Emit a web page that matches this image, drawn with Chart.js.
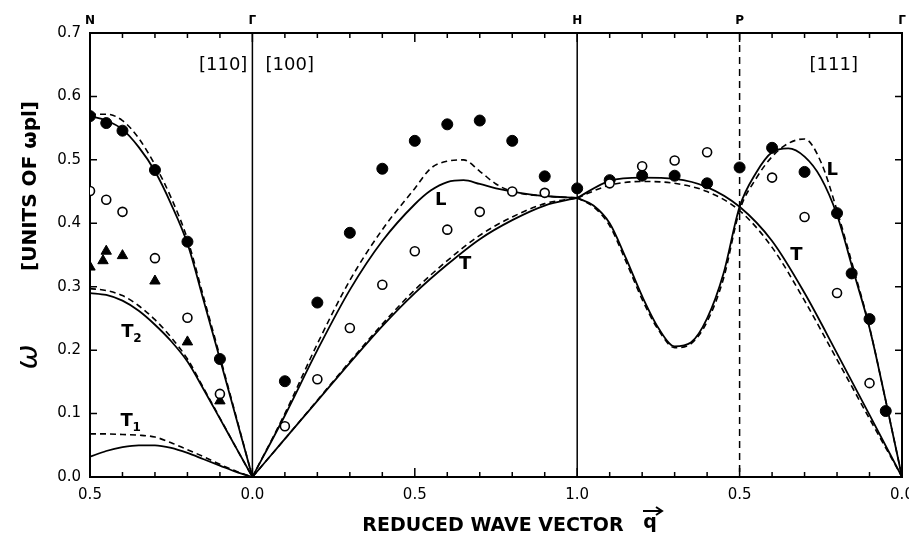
<!DOCTYPE html>
<html>
<head>
<meta charset="utf-8">
<script src="https://cdn.jsdelivr.net/npm/chart.js@4.4.1/dist/chart.umd.min.js"></script>
<style>
  html, body { margin: 0; padding: 0; background: #fff; }
  canvas { display: block; }
</style>
</head>
<body>
<canvas id="chart" width="909" height="533"></canvas>
<script>
// Phonon dispersion along [110], [100], [111]
// x axis is one running coordinate u: N->G (0..0.5), G->H (0.5..1.5), H->P->G (1.5..2.5)

const xTickVals = [0, 0.5, 1.0, 1.5, 2.0, 2.5];
const xTickLabels = ['0.5', '0.0', '0.5', '1.0', '0.5', '0.0'];
const pointNames = ['N', 'Γ', 'H', 'P', 'Γ'];
const pointPos = [0, 0.5, 1.5, 2.0, 2.5];

// [110]  N -> Gamma
const q110 = [0.5, 0.45, 0.4, 0.35, 0.3, 0.25, 0.2, 0.15, 0.1, 0.05, 0];
const L110 = [0.569, 0.562, 0.548, 0.52, 0.482, 0.43, 0.368, 0.278, 0.186, 0.093, 0];
const L110d = [0.572, 0.572, 0.562, 0.534, 0.492, 0.44, 0.375, 0.283, 0.19, 0.095, 0];
const T2 = [0.29, 0.287, 0.278, 0.262, 0.24, 0.214, 0.182, 0.138, 0.092, 0.046, 0];
const T2d = [0.297, 0.294, 0.286, 0.27, 0.248, 0.22, 0.186, 0.14, 0.093, 0.046, 0];
const T1 = [0.032, 0.041, 0.047, 0.05, 0.05, 0.046, 0.038, 0.028, 0.018, 0.008, 0];
const T1d = [0.068, 0.068, 0.067, 0.066, 0.063, 0.054, 0.043, 0.032, 0.02, 0.009, 0];
const q110obs = [0.5, 0.45, 0.4, 0.3, 0.2, 0.1];
const L110obs = [0.569, 0.558, 0.546, 0.484, 0.371, 0.186];
const T110obs = [0.451, 0.437, 0.418, 0.345, 0.251, 0.131];
const q110tri = [0.5, 0.46, 0.45, 0.4, 0.3, 0.2, 0.1];
const T110tri = [0.331, 0.341, 0.356, 0.349, 0.309, 0.213, 0.12];

// [100]  Gamma -> H
const q100L = [0, 0.1, 0.2, 0.3, 0.4, 0.5, 0.55, 0.6, 0.65, 0.7, 0.75, 0.8, 0.9, 1.0];
const L100 = [0, 0.097, 0.2, 0.295, 0.372, 0.43, 0.452, 0.465, 0.468, 0.462, 0.455, 0.45, 0.443, 0.44];
const L100d = [0, 0.1, 0.21, 0.31, 0.39, 0.455, 0.487, 0.498, 0.5, 0.482, 0.462, 0.45, 0.443, 0.44];
const q100T = [0, 0.1, 0.2, 0.3, 0.4, 0.5, 0.6, 0.7, 0.8, 0.9, 1.0];
const T100 = [0, 0.06, 0.12, 0.18, 0.238, 0.29, 0.335, 0.375, 0.405, 0.428, 0.44];
const T100d = [0, 0.06, 0.121, 0.182, 0.241, 0.295, 0.341, 0.381, 0.41, 0.431, 0.44];
const q100obs = [0.1, 0.2, 0.3, 0.4, 0.5, 0.6, 0.7, 0.8, 0.9, 1.0];
const L100obs = [0.151, 0.275, 0.385, 0.486, 0.53, 0.556, 0.562, 0.53, 0.474, 0.455];
const q100open = [0.1, 0.2, 0.3, 0.4, 0.5, 0.6, 0.7, 0.8, 0.9];
const T100obs = [0.08, 0.154, 0.235, 0.303, 0.356, 0.39, 0.418, 0.45, 0.448];

// [111]  H -> P -> Gamma
const q111L = [1.0, 0.95, 0.9, 0.85, 0.8, 0.75, 0.7, 0.65, 0.6, 0.55, 0.5, 0.45, 0.4, 0.35, 0.3, 0.25, 0.2, 0.15, 0.1, 0.05, 0];
const L111 = [0.44, 0.428, 0.4, 0.345, 0.285, 0.235, 0.206, 0.212, 0.25, 0.32, 0.426, 0.479, 0.512, 0.518, 0.505, 0.472, 0.413, 0.325, 0.235, 0.12, 0];
const L111d = [0.44, 0.426, 0.396, 0.34, 0.28, 0.232, 0.204, 0.21, 0.245, 0.312, 0.42, 0.47, 0.505, 0.526, 0.533, 0.497, 0.42, 0.33, 0.236, 0.12, 0];
const q111T = [1.0, 0.9, 0.8, 0.7, 0.6, 0.5, 0.4, 0.3, 0.2, 0.1, 0];
const T111 = [0.44, 0.467, 0.472, 0.47, 0.457, 0.426, 0.372, 0.29, 0.195, 0.098, 0];
const T111d = [0.44, 0.46, 0.466, 0.463, 0.45, 0.42, 0.362, 0.278, 0.185, 0.092, 0];
const q111obs = [0.9, 0.8, 0.7, 0.6, 0.5, 0.4, 0.3, 0.2, 0.155, 0.1, 0.05];
const L111obs = [0.468, 0.475, 0.475, 0.463, 0.488, 0.519, 0.481, 0.416, 0.321, 0.249, 0.104];
const q111open = [0.9, 0.8, 0.7, 0.6, 0.4, 0.3, 0.2, 0.1];
const T111obs = [0.463, 0.49, 0.499, 0.512, 0.472, 0.41, 0.29, 0.148];

const u110 = q => 0.5 - q;
const u100 = q => 0.5 + q;
const u111 = q => 2.5 - q;

function pts(qs, vals, toU) {
  return qs.map((q, i) => ({ x: toU(q), y: vals[i] }));
}

function curve(qs, vals, toU, dashed) {
  return {
    data: pts(qs, vals, toU),
    showLine: true,
    pointRadius: 0,
    borderColor: '#000',
    borderWidth: dashed ? 1.6 : 1.8,
    borderDash: dashed ? [6, 4] : [],
    cubicInterpolationMode: 'monotone',
    order: 2
  };
}

function marks(qs, vals, toU, kind) {
  const ds = {
    data: pts(qs, vals, toU),
    showLine: false,
    borderColor: '#000',
    order: 0
  };
  if (kind === 'filled') {
    Object.assign(ds, { pointStyle: 'circle', pointRadius: 5.5, backgroundColor: '#000', borderWidth: 1 });
  } else if (kind === 'open') {
    Object.assign(ds, { pointStyle: 'circle', pointRadius: 4.5, backgroundColor: '#fff', borderWidth: 1.6 });
  } else {
    Object.assign(ds, { pointStyle: 'triangle', pointRadius: 6, backgroundColor: '#000', borderWidth: 1 });
  }
  return ds;
}

const datasets = [
  curve(q110, L110, u110, false), curve(q110, L110d, u110, true),
  curve(q110, T2, u110, false), curve(q110, T2d, u110, true),
  curve(q110, T1, u110, false), curve(q110, T1d, u110, true),
  curve(q100L, L100, u100, false), curve(q100L, L100d, u100, true),
  curve(q100T, T100, u100, false), curve(q100T, T100d, u100, true),
  curve(q111L, L111, u111, false), curve(q111L, L111d, u111, true),
  curve(q111T, T111, u111, false), curve(q111T, T111d, u111, true),
  marks(q110obs, T110obs, u110, 'open'),
  marks(q110tri, T110tri, u110, 'tri'),
  marks(q110obs, L110obs, u110, 'filled'),
  marks(q100open, T100obs, u100, 'open'),
  marks(q100obs, L100obs, u100, 'filled'),
  marks(q111open, T111obs, u111, 'open'),
  marks(q111obs, L111obs, u111, 'filled')
];

const font = 'DejaVu Sans';

const decor = {
  id: 'decor',
  beforeDatasetsDraw(chart) {
    const { ctx, chartArea: a, scales: { x } } = chart;
    ctx.save();
    ctx.strokeStyle = '#000';
    ctx.lineWidth = 1.5;
    [0.5, 1.5].forEach(v => {
      const px = x.getPixelForValue(v);
      ctx.beginPath(); ctx.moveTo(px, a.top); ctx.lineTo(px, a.bottom); ctx.stroke();
    });
    ctx.setLineDash([7, 5]);
    const pp = x.getPixelForValue(2.0);
    ctx.beginPath(); ctx.moveTo(pp, a.top); ctx.lineTo(pp, a.bottom); ctx.stroke();
    ctx.restore();
  },
  afterDraw(chart) {
    const { ctx, chartArea: a, scales: { x, y } } = chart;
    ctx.save();
    ctx.strokeStyle = '#000';
    ctx.fillStyle = '#000';
    // top and right frame
    ctx.lineWidth = 2;
    ctx.beginPath();
    ctx.moveTo(a.left, a.top); ctx.lineTo(a.right, a.top); ctx.lineTo(a.right, a.bottom);
    ctx.stroke();
    // inward ticks
    ctx.lineWidth = 1.5;
    for (let k = 1; k < 25; k++) {
      const px = x.getPixelForValue(k / 10);
      const len = k % 5 === 0 ? 9 : 5;
      ctx.beginPath();
      ctx.moveTo(px, a.bottom); ctx.lineTo(px, a.bottom - len);
      ctx.moveTo(px, a.top); ctx.lineTo(px, a.top + len);
      ctx.stroke();
    }
    for (let k = 1; k < 7; k++) {
      const py = y.getPixelForValue(k / 10);
      ctx.beginPath();
      ctx.moveTo(a.left, py); ctx.lineTo(a.left + 7, py);
      ctx.moveTo(a.right, py); ctx.lineTo(a.right - 7, py);
      ctx.stroke();
    }
    // symmetry point names
    ctx.textAlign = 'center';
    ctx.textBaseline = 'middle';
    ctx.font = 'bold 12px ' + font;
    pointNames.forEach((n, i) => {
      ctx.fillText(n, x.getPixelForValue(pointPos[i]), a.top - 12);
    });
    // direction labels
    ctx.font = '18px ' + font;
    ctx.fillText('[110]', x.getPixelForValue(0.41), a.top + 32);
    ctx.fillText('[100]', x.getPixelForValue(0.615), a.top + 32);
    ctx.fillText('[111]', x.getPixelForValue(2.29), a.top + 32);
    // branch labels
    ctx.font = 'bold 18px ' + font;
    ctx.fillText('L', x.getPixelForValue(1.08), y.getPixelForValue(0.436));
    ctx.fillText('T', x.getPixelForValue(1.155), y.getPixelForValue(0.336));
    ctx.fillText('L', x.getPixelForValue(2.285), y.getPixelForValue(0.484));
    ctx.fillText('T', x.getPixelForValue(2.175), y.getPixelForValue(0.35));
    ctx.fillText('T', x.getPixelForValue(0.115), y.getPixelForValue(0.228));
    ctx.fillText('T', x.getPixelForValue(0.113), y.getPixelForValue(0.087));
    ctx.font = 'bold 12px ' + font;
    ctx.fillText('2', x.getPixelForValue(0.115) + 10, y.getPixelForValue(0.228) + 6);
    ctx.fillText('1', x.getPixelForValue(0.113) + 10, y.getPixelForValue(0.087) + 6);
    // y title (rotated)
    ctx.save();
    ctx.translate(31, 186);
    ctx.rotate(-Math.PI / 2);
    ctx.font = 'bold 20px ' + font;
    ctx.fillText('[UNITS OF ωpl]', 0, 0);
    ctx.restore();
    ctx.save();
    ctx.translate(29, 357);
    ctx.rotate(-Math.PI / 2);
    ctx.font = 'italic 30px ' + font;
    ctx.fillText('ω', 0, 0);
    ctx.restore();
    // x title
    ctx.textBaseline = 'alphabetic';
    ctx.font = 'bold 19px ' + font;
    ctx.fillText('REDUCED WAVE VECTOR', 493, 531);
    ctx.fillText('q', 650, 528);
    ctx.lineWidth = 2;
    ctx.beginPath();
    ctx.moveTo(643, 511); ctx.lineTo(662, 511);
    ctx.moveTo(656, 507); ctx.lineTo(662, 511); ctx.lineTo(656, 515);
    ctx.stroke();
    ctx.restore();
  }
};

const ctx = document.getElementById('chart').getContext('2d');
const chart = new Chart(ctx, {
  type: 'scatter',
  data: { datasets },
  plugins: [decor],
  options: {
    responsive: false,
    animation: false,
    layout: { padding: { top: 33, right: 6, left: 0, bottom: 0 } },
    plugins: { legend: { display: false }, tooltip: { enabled: false } },
    scales: {
      x: {
        type: 'linear',
        min: 0,
        max: 2.5,
        afterFit: s => { s.height = 56; s.paddingLeft = 0; s.paddingRight = 0; },
        afterBuildTicks: s => { s.ticks = xTickVals.map(v => ({ value: v })); },
        grid: { display: true, drawOnChartArea: false, drawTicks: false },
        border: { display: true, color: '#000', width: 2 },
        ticks: {
          padding: 9,
          color: '#000',
          font: { family: font, size: 15 },
          maxRotation: 0,
          callback: (v, i) => xTickLabels[i]
        }
      },
      y: {
        min: 0,
        max: 0.7,
        afterFit: s => { s.width = 90; s.paddingTop = 0; s.paddingBottom = 0; },
        grid: { display: true, drawOnChartArea: false, drawTicks: false },
        border: { display: true, color: '#000', width: 2 },
        ticks: {
          stepSize: 0.1,
          padding: 9,
          color: '#000',
          font: { family: font, size: 15 },
          callback: v => v.toFixed(1)
        }
      }
    }
  }
});
</script>
</body>
</html>
